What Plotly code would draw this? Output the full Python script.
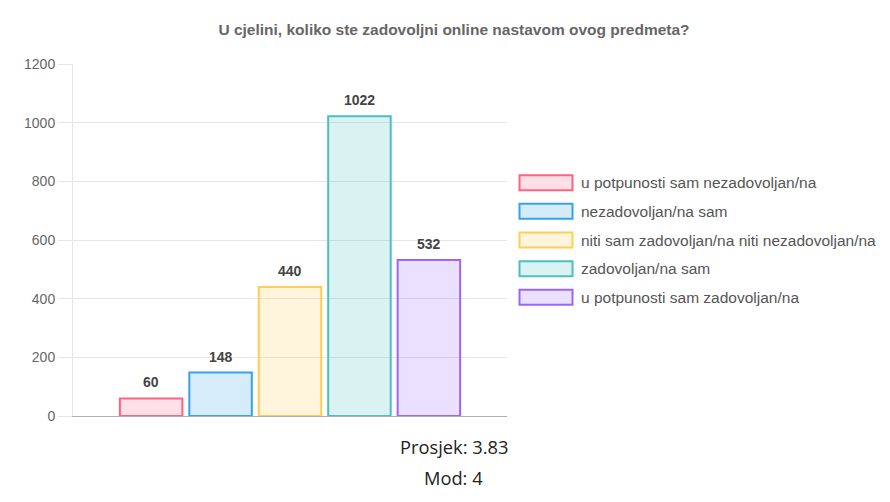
import plotly.graph_objects as go

# survey answers (Chart.js style grouped bars, one category)
title = "U cjelini, koliko ste zadovoljni online nastavom ovog predmeta?"
answers = [
    "u potpunosti sam nezadovoljan/na",
    "nezadovoljan/na sam",
    "niti sam zadovoljan/na niti nezadovoljan/na",
    "zadovoljan/na sam",
    "u potpunosti sam zadovoljan/na",
]
counts = [60, 148, 440, 1022, 532]
y_ticks = [0, 200, 400, 600, 800, 1000, 1200]
average = "3.83"
mode = "4"

rgb = ["255,99,132", "54,162,235", "255,205,86", "75,192,192", "153,102,255"]

# page body has an 8px margin, so screen coords are shifted by OFF
OFF = 8
W, H = 890, 502
L, R, T, B = 65, 391, 56, 94
pw, ph = W - L - R, H - T - B


def px_x(x):
    return (x - OFF - L) / pw


def px_y(y):
    return (H - B - (y - OFF)) / ph


GAP, GROUPGAP = 0.2, 0.1
n = len(counts)
slot = (1 - GAP) / n

fig = go.Figure()
annots = []
for i, (name, val, c) in enumerate(zip(answers, counts, rgb)):
    fig.add_trace(go.Bar(
        x=[""], y=[val], name=name,
        marker=dict(color=f"rgba({c},0.2)", line=dict(color=f"rgb({c})", width=2)),
        hoverinfo="name+y",
    ))
    # value label above each bar
    annots.append(dict(
        text=f"<b>{val}</b>", xref="x", yref="y",
        x=-0.5 + GAP / 2 + (i + 0.5) * slot, y=val,
        xanchor="center", yanchor="bottom", yshift=6, showarrow=False,
        font=dict(family="Liberation Sans, Arial", size=14, color="#444"),
    ))

# legend drawn like Chart.js: wide boxes on the right
shapes = []
for i, (name, c) in enumerate(zip(answers, rgb)):
    cy = 182.7 + i * 28.65
    shapes.append(dict(
        type="rect", xref="paper", yref="paper",
        x0=px_x(519.5), x1=px_x(572.5), y0=px_y(cy - 7.5), y1=px_y(cy + 7.5),
        fillcolor=f"rgba({c},0.2)", line=dict(color=f"rgb({c})", width=2),
    ))
    annots.append(dict(
        text=name, xref="paper", yref="paper", x=px_x(579), y=px_y(cy),
        xanchor="left", yanchor="middle", showarrow=False,
        font=dict(family="Liberation Sans, Arial", size=15.5, color="#555"),
    ))

annots.append(dict(
    text=f"Prosjek: {average}", xref="paper", yref="paper",
    x=px_x(453.5), y=px_y(446), xanchor="center", yanchor="middle", showarrow=False,
    font=dict(family="Open Sans, Noto Sans", size=18.3, color="#222"),
))
annots.append(dict(
    text=f"Mod: {mode}", xref="paper", yref="paper",
    x=px_x(453.5), y=px_y(477), xanchor="center", yanchor="middle", showarrow=False,
    font=dict(family="Open Sans, Noto Sans", size=18.3, color="#222"),
))

fig.update_layout(
    width=W, height=H,
    margin=dict(l=L, r=R, t=T, b=B),
    plot_bgcolor="white", paper_bgcolor="white",
    title=dict(text=f"<b>{title}</b>", x=(454 - OFF) / W, xanchor="center",
               y=1 - (30 - OFF) / H, yanchor="middle",
               font=dict(family="Liberation Sans, Arial", size=15.5, color="#666")),
    barmode="group", bargap=GAP, bargroupgap=GROUPGAP,
    showlegend=False,
    shapes=shapes, annotations=annots,
    xaxis=dict(showticklabels=False, showgrid=False, zeroline=False,
               showline=True, linecolor="#b0b0b0", linewidth=1, ticks=""),
    yaxis=dict(range=[0, 1200], tickvals=y_ticks, showgrid=True, gridcolor="#e6e6e6",
               zeroline=False, showline=True, linecolor="#e6e6e6", linewidth=1,
               ticks="outside", ticklen=14, tickcolor="#e6e6e6", ticklabelstandoff=0,
               tickfont=dict(family="Liberation Sans, Arial", size=14, color="#666")),
)

fig.write_html("out.html")
